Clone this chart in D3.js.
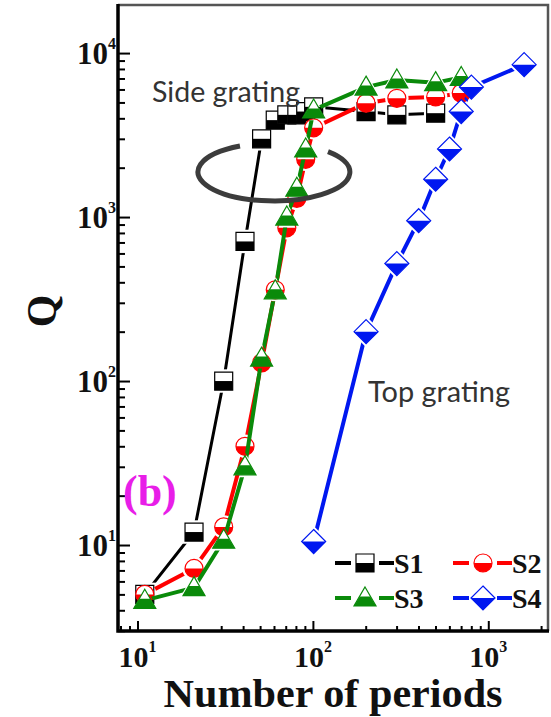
<!DOCTYPE html>
<html lang="en">
<head>
<meta charset="UTF-8">
<title>Q vs number of periods</title>
<style>
    body { margin: 0; background: #fff; }
    .axis .domain { display: none; }
    .axis line { stroke: #000; stroke-width: 2; }
    .lbl { font-family: "Liberation Serif", "Times New Roman", serif; font-weight: bold; fill: #111; }
    .note { font-family: Lato, "Open Sans", sans-serif; fill: #333; }
</style>
</head>
<body>
<svg width="551" height="717"></svg>
<script src="https://cdn.jsdelivr.net/npm/d3@7/dist/d3.min.js"></script>
<script>
// data
var s1Periods = [11, 21, 31, 41, 51, 61, 71, 81, 91, 101, 201, 301, 501];
var s1Q       = [5, 12, 100, 710, 3000, 3900, 4200, 4200, 4400, 4700, 4400, 4200, 4300];
var s2Periods = [11, 21, 31, 41, 51, 61, 71, 81, 91, 101, 201, 301, 501, 701];
var s2Q       = [5, 7.2, 12.9, 40, 129, 360, 860, 1300, 2250, 3500, 4950, 5300, 5400, 5700];
var s3Periods = [11, 21, 31, 41, 51, 61, 71, 81, 91, 101, 201, 301, 501, 701];
var s3Q       = [4.6, 5.5, 10.7, 30, 138, 355, 1000, 1500, 2600, 4500, 6200, 6850, 6600, 7100];
var s4Periods = [101, 201, 301, 401, 501, 601, 701, 801, 1601];
var s4Q       = [10.5, 200, 520, 950, 1700, 2600, 4400, 6200, 8500];
var seriesNames = ["S1", "S2", "S3", "S4"];
var xTickExp = [1, 2, 3];
var yTickExp = [1, 2, 3, 4];

var svg = d3.select("svg"),
    plot = {left: 118, right: 548, top: 5, bottom: 631};
var defs = svg.append("defs");

var x = d3.scaleLog().domain([7.74, 2190]).range([plot.left, plot.right]);
var y = d3.scaleLog().domain([2.99, 19640]).range([plot.bottom, plot.top]);

var series = [
    {name: seriesNames[0], xs: s1Periods, ys: s1Q, color: "#000", shape: "square", w: 3},
    {name: seriesNames[1], xs: s2Periods, ys: s2Q, color: "#f00", shape: "circle", w: 4},
    {name: seriesNames[2], xs: s3Periods, ys: s3Q, color: "#0a8a0a", shape: "triangle", w: 4},
    {name: seriesNames[3], xs: s4Periods, ys: s4Q, color: "#0018f0", shape: "diamond", w: 4}
];

// marker outline (full) and the filled lower half
function markerPaths(shape) {
    if (shape == "square") {
        return ["M-9,-9H9V9H-9Z", "M-9,0H9V9H-9Z"];
    } else if (shape == "circle") {
        return ["M-9,0A9,9 0 1,1 9,0A9,9 0 1,1 -9,0Z", "M-9,0A9,9 0 0,0 9,0Z"];
    } else if (shape == "triangle") {
        return ["M0,-11L11,8H-11Z", "M-5.2,-1.5H5.2L11,8H-11Z"];
    }
    return ["M0,-12L12,0L0,12L-12,0Z", "M-12,0H12L0,12Z"];
}

// ticks
var xt = x.ticks().filter(function(d){ return d >= x.domain()[0] && d <= x.domain()[1]; });
var xMajor = xt.filter(function(d){ return Math.abs(Math.log10(d) % 1) < 1e-9; });
var xMinor = xt.filter(function(d){ return xMajor.indexOf(d) < 0; });
var yt = y.ticks();
var yMajor = yt.filter(function(d){ return Math.abs(Math.log10(d) % 1) < 1e-9; });
var yMinor = yt.filter(function(d){ return yMajor.indexOf(d) < 0; });

svg.append("g").attr("class", "axis").attr("transform", "translate(0," + plot.bottom + ")")
    .call(d3.axisBottom(x).tickValues(xMinor).tickSize(-5).tickFormat(""));
svg.append("g").attr("class", "axis").attr("transform", "translate(0," + plot.bottom + ")")
    .call(d3.axisBottom(x).tickValues(xMajor).tickSize(-10).tickFormat(""));
svg.append("g").attr("class", "axis").attr("transform", "translate(" + plot.left + ",0)")
    .call(d3.axisLeft(y).tickValues(yMinor).tickSize(-7).tickFormat(""));
svg.append("g").attr("class", "axis").attr("transform", "translate(" + plot.left + ",0)")
    .call(d3.axisLeft(y).tickValues(yMajor).tickSize(-12).tickFormat(""));

// frame
svg.append("path").attr("d", "M" + plot.left + "," + plot.top + "H" + plot.right + "V" + plot.bottom)
    .attr("fill", "none").attr("stroke", "#555").attr("stroke-width", 2.5);
svg.append("path").attr("d", "M" + plot.left + "," + (plot.top - 1) + "V" + plot.bottom + "H" + (plot.right + 1))
    .attr("fill", "none").attr("stroke", "#000").attr("stroke-width", 3.5);

// tick labels
yTickExp.forEach(function(e) {
    var t = svg.append("text").attr("class", "lbl").attr("text-anchor", "end")
        .attr("x", 116).attr("y", y(Math.pow(10, e)) + 11).attr("font-size", 31);
    t.append("tspan").text("10");
    t.append("tspan").attr("font-size", 16).attr("dy", -15).text(e);
});
xTickExp.forEach(function(e) {
    var t = svg.append("text").attr("class", "lbl").attr("text-anchor", "middle")
        .attr("x", x(Math.pow(10, e))).attr("y", 667).attr("font-size", 30);
    t.append("tspan").text("10");
    t.append("tspan").attr("font-size", 16).attr("dy", -15).text(e);
});

svg.append("text").attr("class", "lbl").attr("text-anchor", "middle")
    .attr("x", 333).attr("y", 707).attr("font-size", 40)
    .attr("textLength", 339).attr("lengthAdjust", "spacingAndGlyphs").text("Number of periods");
svg.append("text").attr("class", "lbl").attr("text-anchor", "middle")
    .attr("transform", "translate(56,311) rotate(-90)").attr("font-size", 42).text("Q");

// curves: the line of each series stops short of its own markers
var line = d3.line().x(function(d){ return x(d[0]); }).y(function(d){ return y(d[1]); });

series.forEach(function(s, si) {
    var pts = s.xs.map(function(v, i){ return [v, s.ys[i]]; });
    var mp = markerPaths(s.shape);
    var mask = defs.append("mask").attr("id", "gap" + si)
        .attr("maskUnits", "userSpaceOnUse").attr("x", 0).attr("y", 0).attr("width", 551).attr("height", 717);
    mask.append("rect").attr("width", 551).attr("height", 717).attr("fill", "#fff");
    mask.selectAll("path").data(pts).enter().append("path")
        .attr("d", mp[0]).attr("fill", "#000")
        .attr("transform", function(d){ return "translate(" + x(d[0]) + "," + y(d[1]) + ") scale(1.3)"; });

    svg.append("path").datum(pts).attr("d", line).attr("mask", "url(#gap" + si + ")")
        .attr("fill", "none").attr("stroke", s.color).attr("stroke-width", s.w)
        .attr("stroke-linejoin", "round");
    var m = svg.append("g").selectAll("g").data(pts).enter().append("g")
        .attr("transform", function(d){ return "translate(" + x(d[0]) + "," + y(d[1]) + ")"; });
    m.append("path").attr("d", mp[0]).attr("fill", "#fff").attr("stroke", s.color).attr("stroke-width", 1.2);
    m.append("path").attr("d", mp[1]).attr("fill", s.color);
});

// legend
var legRows = [[0, 1], [2, 3]];
var legX = [365, 483], legY = [563, 598];
legRows.forEach(function(row, r) {
    row.forEach(function(si, c) {
        var s = series[si], cx = legX[c], cy = legY[r];
        var g = svg.append("g").attr("transform", "translate(" + cx + "," + cy + ")");
        g.append("line").attr("x1", -30).attr("x2", -14).attr("stroke", s.color).attr("stroke-width", 4);
        g.append("line").attr("x1", 14).attr("x2", 29).attr("stroke", s.color).attr("stroke-width", 4);
        var mp = markerPaths(s.shape);
        g.append("path").attr("d", mp[0]).attr("fill", "#fff").attr("stroke", s.color).attr("stroke-width", 1.2);
        g.append("path").attr("d", mp[1]).attr("fill", s.color);
        g.append("text").attr("class", "lbl").attr("x", 29).attr("y", 10)
            .attr("font-size", 28).text(s.name);
    });
});

// annotations
svg.append("text").attr("class", "lbl").attr("x", 123).attr("y", 506)
    .attr("font-size", 44).style("fill", "#e81ee8").text("(b)");
svg.append("text").attr("class", "note").attr("x", 152).attr("y", 102)
    .attr("font-size", 28).attr("textLength", 148).attr("lengthAdjust", "spacingAndGlyphs").text("Side grating");
svg.append("text").attr("class", "note").attr("x", 368).attr("y", 402)
    .attr("font-size", 28).attr("textLength", 142).attr("lengthAdjust", "spacingAndGlyphs").text("Top grating");
svg.append("path").attr("d", "M328,151.6A76,29 0 1,1 240,146")
    .attr("fill", "none").attr("stroke", "#3c3c3c").attr("stroke-width", 5);
</script>
</body>
</html>
